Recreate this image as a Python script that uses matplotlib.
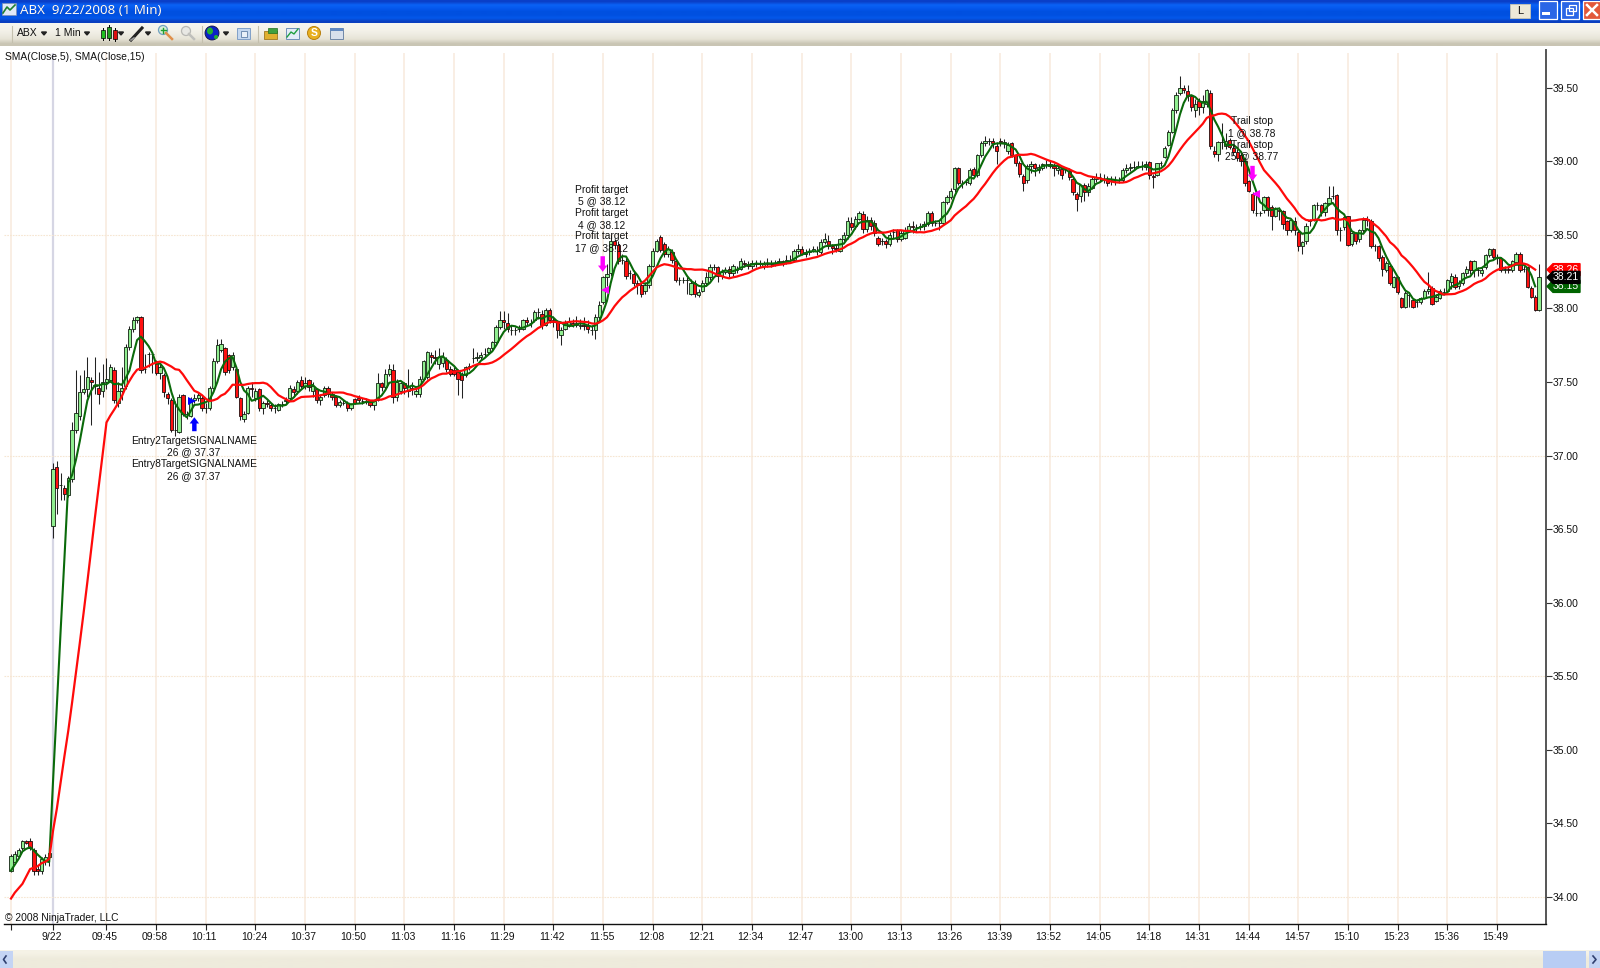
import matplotlib
matplotlib.use('Agg')
import matplotlib.pyplot as plt
import matplotlib.patches as mpatches
from matplotlib.transforms import ScaledTranslation
import numpy as np

plt.rcParams['font.family'] = ['Liberation Sans', 'DejaVu Sans']

# one row per 10 bars
opens = [
    34.18,34.24,34.28,34.33,34.38,34.38,34.32,34.19,34.18,34.25,
    34.27,36.52,36.92,36.80,36.78,36.73,36.84,37.17,37.27,37.43,
    37.45,37.51,37.47,37.46,37.44,37.50,37.51,37.58,37.36,37.44,
    37.47,37.74,37.86,37.92,37.94,37.59,37.69,37.69,37.64,37.56,
    37.55,37.42,37.38,37.17,37.16,37.41,37.28,37.27,37.38,37.39,
    37.39,37.32,37.32,37.46,37.64,37.72,37.73,37.68,37.60,37.59,
    37.39,37.25,37.29,37.46,37.39,37.45,37.32,37.36,37.34,37.32,
    37.31,37.35,37.37,37.39,37.45,37.44,37.51,37.47,37.515,37.44,
    37.455,37.375,37.41,37.46,37.42,37.40,37.34,37.36,37.355,37.32,
    37.385,37.39,37.37,37.37,37.365,37.34,37.375,37.49,37.465,37.555,
    37.58,37.40,37.44,37.49,37.44,37.46,37.42,37.42,37.52,37.53,
    37.68,37.67,37.62,37.63,37.65,37.59,37.58,37.57,37.555,37.545,
    37.60,37.66,37.66,37.67,37.69,37.70,37.73,37.77,37.87,37.92,
    37.90,37.85,37.85,37.86,37.86,37.92,37.90,37.92,37.975,37.96,
    37.885,37.99,37.92,37.91,37.82,37.86,37.88,37.90,37.89,37.88,
    37.89,37.88,37.85,37.85,37.94,38.04,38.21,38.24,38.46,38.43,
    38.33,38.32,38.24,38.235,38.17,38.16,38.12,38.16,38.29,38.39,
    38.485,38.435,38.37,38.385,38.32,38.19,38.195,38.19,38.10,38.17,
    38.09,38.12,38.17,38.21,38.28,38.28,38.22,38.25,38.27,38.24,
    38.26,38.27,38.31,38.30,38.29,38.31,38.30,38.29,38.30,38.31,
    38.30,38.31,38.32,38.31,38.33,38.33,38.39,38.40,38.37,38.38,
    38.39,38.39,38.38,38.45,38.46,38.42,38.41,38.39,38.47,38.495,
    38.58,38.56,38.61,38.64,38.54,38.60,38.58,38.475,38.46,38.46,
    38.44,38.52,38.53,38.47,38.48,38.53,38.56,38.55,38.55,38.56,
    38.575,38.65,38.58,38.58,38.58,38.72,38.755,38.81,38.955,38.85,
    38.86,38.85,38.945,38.905,39.04,39.125,39.14,39.14,39.10,39.14,
    39.125,39.07,39.125,39.04,38.99,38.90,38.87,38.965,38.98,38.94,
    38.95,38.98,38.97,38.97,38.94,38.945,38.94,38.93,38.88,38.78,
    38.76,38.835,38.79,38.82,38.88,38.89,38.88,38.88,38.87,38.87,
    38.87,38.87,38.94,38.95,38.96,38.96,38.97,38.96,38.995,38.90,
    38.905,38.985,39.03,39.11,39.20,39.345,39.46,39.50,39.475,39.44,
    39.35,39.41,39.37,39.39,39.46,39.07,39.05,39.13,39.10,39.145,
    39.09,39.06,39.04,39.00,38.865,38.78,38.645,38.645,38.665,38.755,
    38.69,38.63,38.67,38.66,38.595,38.53,38.59,38.52,38.42,38.46,
    38.59,38.60,38.70,38.70,38.655,38.715,38.765,38.77,38.53,38.55,
    38.625,38.435,38.51,38.47,38.53,38.61,38.59,38.42,38.42,38.35,
    38.26,38.29,38.145,38.215,38.07,38.01,38.09,38.055,38.04,38.04,
    38.07,38.12,38.14,38.05,38.07,38.11,38.12,38.18,38.215,38.15,
    38.17,38.24,38.32,38.26,38.26,38.24,38.28,38.36,38.40,38.34,
    38.34,38.26,38.27,38.26,38.315,38.37,38.27,38.28,38.14,38.08,37.99]
closes = [
    34.28,34.29,34.32,34.38,34.37,34.33,34.18,34.18,34.26,34.27,
    34.30,36.91,36.78,36.80,36.74,36.85,37.17,37.29,37.43,37.45,
    37.53,37.50,37.48,37.42,37.50,37.52,37.60,37.38,37.44,37.46,
    37.74,37.86,37.92,37.94,37.58,37.59,37.69,37.69,37.56,37.60,
    37.43,37.39,37.17,37.17,37.40,37.28,37.28,37.37,37.39,37.41,
    37.32,37.32,37.46,37.64,37.75,37.76,37.57,37.58,37.68,37.40,
    37.27,37.28,37.46,37.45,37.44,37.32,37.36,37.35,37.32,37.32,
    37.35,37.35,37.38,37.46,37.43,37.50,37.47,37.49,37.465,37.47,
    37.375,37.40,37.46,37.42,37.40,37.34,37.365,37.36,37.32,37.35,
    37.36,37.375,37.37,37.37,37.34,37.37,37.49,37.465,37.555,37.59,
    37.40,37.50,37.49,37.46,37.47,37.46,37.44,37.52,37.64,37.70,
    37.67,37.66,37.67,37.67,37.59,37.555,37.555,37.52,37.515,37.60,
    37.61,37.66,37.67,37.68,37.69,37.73,37.77,37.87,37.92,37.91,
    37.86,37.85,37.85,37.86,37.92,37.91,37.90,37.975,37.975,37.885,
    37.99,37.92,37.91,37.85,37.85,37.90,37.91,37.89,37.90,37.89,
    37.88,37.86,37.85,37.94,38.02,38.21,38.23,38.46,38.43,38.32,
    38.33,38.22,38.24,38.17,38.16,38.10,38.16,38.29,38.39,38.46,
    38.395,38.37,38.40,38.33,38.19,38.19,38.195,38.19,38.17,38.10,
    38.11,38.17,38.21,38.28,38.28,38.22,38.25,38.26,38.24,38.29,
    38.27,38.32,38.30,38.29,38.31,38.30,38.31,38.30,38.31,38.30,
    38.31,38.32,38.31,38.33,38.33,38.39,38.40,38.37,38.38,38.39,
    38.40,38.39,38.45,38.47,38.42,38.41,38.40,38.47,38.495,38.595,
    38.555,38.61,38.645,38.54,38.60,38.56,38.51,38.44,38.46,38.44,
    38.50,38.52,38.47,38.51,38.53,38.56,38.55,38.55,38.56,38.575,
    38.65,38.58,38.58,38.58,38.72,38.755,38.80,38.95,38.85,38.85,
    38.86,38.94,38.905,39.04,39.125,39.14,39.14,39.125,39.07,39.13,
    39.13,39.11,39.04,38.985,38.91,38.85,38.965,38.98,38.95,38.96,
    38.98,38.98,38.98,38.95,38.95,38.905,38.94,38.89,38.79,38.74,
    38.835,38.79,38.83,38.88,38.89,38.89,38.88,38.85,38.87,38.87,
    38.87,38.94,38.95,38.96,38.96,38.97,38.97,38.98,38.905,38.89,
    38.985,38.99,39.09,39.20,39.345,39.45,39.50,39.48,39.44,39.37,
    39.39,39.37,39.41,39.48,39.10,39.05,39.13,39.13,39.14,39.095,
    39.06,39.02,39.00,38.85,38.80,38.665,38.645,38.645,38.755,38.665,
    38.63,38.68,38.66,38.575,38.53,38.60,38.53,38.42,38.45,38.56,
    38.60,38.70,38.70,38.655,38.715,38.75,38.76,38.53,38.53,38.62,
    38.43,38.51,38.46,38.53,38.60,38.60,38.42,38.42,38.34,38.27,
    38.31,38.17,38.21,38.11,38.01,38.105,38.09,38.01,38.04,38.07,
    38.12,38.13,38.03,38.08,38.12,38.11,38.195,38.22,38.145,38.17,
    38.24,38.27,38.26,38.32,38.26,38.26,38.365,38.40,38.35,38.34,
    38.26,38.27,38.26,38.32,38.37,38.26,38.27,38.145,38.08,37.99,38.21]
highs = [
    34.29,34.31,34.33,34.39,34.39,34.40,34.33,34.22,34.27,34.29,
    34.33,36.95,36.96,36.88,36.80,36.86,37.23,37.58,37.55,37.58,
    37.67,37.53,37.67,37.57,37.62,37.66,37.62,37.60,37.50,37.60,
    37.76,37.88,37.94,37.95,37.95,37.69,37.70,37.70,37.65,37.62,
    37.56,37.43,37.39,37.37,37.42,37.42,37.30,37.40,37.42,37.43,
    37.41,37.36,37.47,37.66,37.79,37.79,37.74,37.69,37.70,37.60,
    37.40,37.30,37.47,37.50,37.46,37.46,37.37,37.38,37.36,37.35,
    37.36,37.37,37.40,37.48,37.47,37.51,37.54,37.53,37.52,37.50,
    37.46,37.42,37.47,37.47,37.43,37.41,37.38,37.38,37.37,37.36,
    37.39,37.41,37.39,37.39,37.38,37.38,37.56,37.50,37.59,37.62,
    37.62,37.52,37.50,37.50,37.59,37.50,37.47,37.54,37.65,37.71,
    37.70,37.72,37.73,37.70,37.67,37.61,37.60,37.59,37.57,37.61,
    37.63,37.73,37.70,37.70,37.73,37.74,37.78,37.89,37.98,37.98,
    37.97,37.89,37.87,37.89,37.93,37.94,37.93,37.99,38.00,37.99,
    38.00,38.00,37.95,37.92,37.87,37.92,37.94,37.93,37.95,37.93,
    37.94,37.92,37.89,37.96,38.05,38.22,38.30,38.50,38.47,38.46,
    38.37,38.34,38.26,38.26,38.19,38.18,38.18,38.30,38.41,38.47,
    38.50,38.45,38.42,38.40,38.33,38.21,38.21,38.21,38.20,38.19,
    38.13,38.19,38.25,38.30,38.30,38.29,38.27,38.28,38.29,38.30,
    38.29,38.34,38.33,38.32,38.33,38.33,38.33,38.32,38.34,38.33,
    38.33,38.34,38.33,38.36,38.36,38.40,38.44,38.42,38.40,38.41,
    38.42,38.42,38.47,38.51,38.50,38.44,38.43,38.48,38.52,38.62,
    38.62,38.63,38.66,38.66,38.63,38.62,38.60,38.49,38.48,38.47,
    38.52,38.54,38.54,38.53,38.55,38.58,38.59,38.57,38.58,38.59,
    38.66,38.66,38.60,38.60,38.73,38.77,38.82,38.96,38.96,38.87,
    38.88,38.95,38.96,39.05,39.14,39.17,39.16,39.16,39.13,39.16,
    39.15,39.13,39.13,39.05,39.00,38.91,38.98,39.00,38.99,38.98,
    38.99,39.01,39.00,38.99,38.98,38.96,38.96,38.95,38.89,38.79,
    38.84,38.85,38.85,38.90,38.92,38.92,38.91,38.90,38.90,38.90,
    38.89,38.95,38.98,38.99,39.00,39.00,39.00,39.00,39.00,38.91,
    38.99,39.00,39.10,39.21,39.36,39.47,39.58,39.52,39.52,39.45,
    39.42,39.43,39.45,39.49,39.48,39.10,39.14,39.26,39.19,39.16,
    39.11,39.08,39.05,39.02,38.87,38.79,38.78,38.66,38.76,38.76,
    38.70,38.69,38.69,38.67,38.60,38.61,38.62,38.53,38.46,38.58,
    38.61,38.71,38.72,38.71,38.72,38.83,38.83,38.78,38.55,38.63,
    38.63,38.52,38.52,38.54,38.62,38.63,38.61,38.44,38.43,38.36,
    38.32,38.30,38.22,38.22,38.08,38.12,38.11,38.07,38.06,38.08,
    38.13,38.25,38.15,38.10,38.13,38.14,38.20,38.24,38.23,38.19,
    38.25,38.29,38.33,38.33,38.28,38.28,38.37,38.41,38.41,38.37,
    38.35,38.29,38.29,38.33,38.38,38.38,38.29,38.29,38.15,38.09,38.30]
lows = [
    34.17,34.23,34.27,34.32,34.36,34.32,34.15,34.15,34.16,34.22,
    34.21,36.44,36.60,36.70,36.70,36.72,36.82,37.15,37.24,37.42,
    37.40,37.21,37.42,37.35,37.40,37.45,37.50,37.36,37.33,37.38,
    37.45,37.72,37.84,37.90,37.56,37.56,37.60,37.56,37.55,37.52,
    37.40,37.35,37.16,37.13,37.15,37.27,37.25,37.26,37.36,37.37,
    37.30,37.29,37.31,37.45,37.63,37.70,37.55,37.56,37.58,37.39,
    37.24,37.23,37.28,37.40,37.37,37.30,37.28,37.33,37.30,37.29,
    37.30,37.33,37.35,37.37,37.40,37.42,37.46,37.45,37.44,37.40,
    37.36,37.34,37.40,37.40,37.38,37.33,37.33,37.34,37.30,37.31,
    37.35,37.36,37.35,37.35,37.33,37.31,37.37,37.44,37.45,37.54,
    37.36,37.37,37.42,37.42,37.40,37.41,37.40,37.40,37.51,37.52,
    37.63,37.62,37.59,37.60,37.57,37.54,37.54,37.41,37.39,37.53,
    37.58,37.63,37.64,37.65,37.67,37.69,37.72,37.76,37.86,37.86,
    37.84,37.82,37.82,37.84,37.85,37.89,37.87,37.91,37.93,37.86,
    37.88,37.90,37.87,37.80,37.75,37.85,37.87,37.87,37.87,37.86,
    37.85,37.83,37.82,37.79,37.93,38.03,38.15,38.22,38.40,38.30,
    38.30,38.20,38.20,38.15,38.10,38.08,38.10,38.14,38.28,38.38,
    38.38,38.35,38.35,38.31,38.18,38.16,38.17,38.10,38.09,38.08,
    38.08,38.11,38.15,38.19,38.26,38.18,38.20,38.23,38.21,38.22,
    38.24,38.26,38.28,38.27,38.27,38.28,38.28,38.27,38.28,38.28,
    38.29,38.30,38.29,38.30,38.31,38.32,38.37,38.36,38.35,38.36,
    38.38,38.36,38.37,38.44,38.40,38.37,38.38,38.38,38.46,38.47,
    38.53,38.54,38.60,38.51,38.52,38.53,38.49,38.42,38.43,38.41,
    38.42,38.48,38.45,38.46,38.47,38.52,38.51,38.52,38.53,38.53,
    38.56,38.56,38.56,38.53,38.57,38.71,38.74,38.79,38.84,38.82,
    38.84,38.84,38.89,38.89,39.03,39.10,39.11,39.09,38.98,39.10,
    39.09,39.05,39.03,38.97,38.89,38.80,38.85,38.92,38.90,38.92,
    38.94,38.95,38.95,38.90,38.91,38.88,38.92,38.87,38.77,38.66,
    38.72,38.73,38.76,38.81,38.86,38.86,38.85,38.83,38.84,38.84,
    38.85,38.86,38.92,38.93,38.94,38.95,38.94,38.94,38.88,38.82,
    38.90,38.97,39.02,39.10,39.19,39.33,39.45,39.46,39.41,39.34,
    39.30,39.31,39.33,39.37,39.08,39.03,39.00,39.08,39.08,39.08,
    39.04,39.00,38.97,38.83,38.79,38.65,38.63,38.63,38.65,38.63,
    38.53,38.62,38.60,38.54,38.50,38.52,38.50,38.39,38.37,38.44,
    38.56,38.59,38.67,38.63,38.63,38.70,38.74,38.50,38.46,38.53,
    38.42,38.42,38.44,38.45,38.52,38.56,38.41,38.39,38.32,38.22,
    38.25,38.16,38.14,38.10,38.00,38.00,38.01,38.00,38.01,38.03,
    38.06,38.10,38.02,38.04,38.06,38.09,38.11,38.13,38.13,38.13,
    38.16,38.22,38.23,38.21,38.22,38.22,38.27,38.35,38.33,38.30,
    38.25,38.24,38.24,38.25,38.30,38.25,38.25,38.14,38.07,37.98,37.98]

# values the moving averages show before their windows are full
sma5_head = [34.18, 34.22, 34.26, 34.31]
sma15_head = [33.99, 34.03, 34.06, 34.09, 34.14, 34.19, 34.20,
              34.21, 34.23, 34.24, 34.26, 34.45, 34.60, 34.78]

tick_bars = [0, 11] + list(range(25, 390, 13))
tick_labels = ['', '9/22', '09:45', '09:58', '10:11', '10:24', '10:37', '10:50', '11:03',
               '11:16', '11:29', '11:42', '11:55', '12:08', '12:21', '12:34', '12:47',
               '13:00', '13:13', '13:26', '13:39', '13:52', '14:05', '14:18', '14:31',
               '14:44', '14:57', '15:10', '15:23', '15:36', '15:49']
price_ticks = [34.0, 34.5, 35.0, 35.5, 36.0, 36.5, 37.0, 37.5, 38.0, 38.5, 39.0, 39.5]
grid_prices = [34.0, 35.5, 37.0, 38.5]

entry_lines = ['Entry2TargetSIGNALNAME', '26 @ 37.37', 'Entry8TargetSIGNALNAME', '26 @ 37.37']
profit_lines = ['Profit target', '5 @ 38.12', 'Profit target', '4 @ 38.12', 'Profit target', '17 @ 38.12']
trail_lines = ['Trail stop', '1 @ 38.78', 'Trail stop', '25 @ 38.77']

GRID = '#f8e9dc'
LABEL_SIZE = 7.5
NOTE_SIZE = 7.35


def sma(values, n, head):
    rolled = np.convolve(values, np.ones(n) / n, 'valid')
    return np.concatenate([head, rolled])


def note(bar, price, lines):
    # lines sit a fixed 11.7 px apart, centred on the given price
    for k, line in enumerate(lines):
        dy = ((len(lines) - 1) / 2 - k) * 11.7 * 0.72
        ax.annotate(line, xy=(bar, price), xytext=(0, dy), textcoords='offset points',
                    ha='center', va='center', fontsize=NOTE_SIZE, color='#111111', zorder=7)


fig = plt.figure(figsize=(16, 9.68), dpi=100, facecolor='white')
ax = fig.add_axes([4 / 1600, 1 - 924 / 968, 1542 / 1600, 874 / 968])
ax.set_xlim(-1.83, 401.83)
ax.set_ylim(33.817, 39.755)

bars = np.arange(len(closes))
o = np.array(opens)
c = np.array(closes)
h = np.array(highs)
l = np.array(lows)
up = c >= o

ax.vlines(tick_bars[2:], 33.817, 39.735, color=GRID, lw=1.1, zorder=0)
ax.vlines(tick_bars[0], 33.817, 39.735, color=GRID, lw=1.1, zorder=0)
ax.vlines(tick_bars[1], 33.817, 39.735, color='#d6d6e4', lw=1.6, zorder=0)
for p in grid_prices:
    ax.axhline(p, color='#f6e6d2', lw=0.8, ls=(0, (1.5, 1)), zorder=0)

ax.vlines(bars, l, h, color='#222222', lw=0.75, zorder=2)
ax.bar(bars[up], c[up] - o[up], bottom=o[up], width=0.86, color='#90ee90',
       edgecolor='#102010', linewidth=0.6, zorder=3)
ax.bar(bars[~up], o[~up] - c[~up], bottom=c[~up], width=0.86, color='#ff1010',
       edgecolor='#201010', linewidth=0.6, zorder=3)

fast = sma(c[:400], 5, sma5_head)
slow = sma(c[:400], 15, sma15_head)
ax.plot(bars[:400], fast, color='#0a6a0a', lw=1.5, zorder=4, solid_joinstyle='round')
ax.plot(bars[:400], slow, color='#ff0a0a', lw=1.6, zorder=5, solid_joinstyle='round')

# trade arrows
arrow_up = dict(facecolor='#0000ff', edgecolor='#0000ff', width=3.2, headwidth=6.8, headlength=4.5, shrink=0, lw=0)
arrow_dn = dict(facecolor='#ff00ff', edgecolor='#ff00ff', width=3.2, headwidth=6.8, headlength=4.5, shrink=0, lw=0)
ax.annotate('', xy=(48, 37.26), xytext=(48, 37.165), arrowprops=arrow_up, zorder=6)
ax.annotate('', xy=(154.9, 38.248), xytext=(154.9, 38.354), arrowprops=arrow_dn, zorder=6)
ax.annotate('', xy=(325, 38.866), xytext=(325, 38.968), arrowprops=arrow_dn, zorder=6)
ax.plot([47.4], [37.37], marker='>', color='#0000ff', ms=5.5, mew=0, zorder=6)
ax.plot([155.6, 325.9], [38.127, 38.775], ls='', marker='<', color='#ff00ff', ms=5.5, mew=0, zorder=6)

# order labels
note(47.9, 36.98, entry_lines)
note(154.7, 38.608, profit_lines)
note(324.9, 39.15, trail_lines)

ax.yaxis.tick_right()
ax.set_yticks(price_ticks, [f'{p:.2f}' for p in price_ticks], fontsize=LABEL_SIZE, color='#111111')
ax.set_xticks(tick_bars, tick_labels, fontsize=LABEL_SIZE, color='#111111')
ax.tick_params(axis='y', length=4, width=0.8, pad=1, color='#333333')
ax.tick_params(axis='x', length=4.5, width=0.8, pad=1.5, color='#222222')
shift = ScaledTranslation(-1.5 / 100, 0, fig.dpi_scale_trans)
for lab in ax.get_xticklabels():
    lab.set_transform(lab.get_transform() + shift)
for s in ['top', 'left']:
    ax.spines[s].set_visible(False)
ax.spines['bottom'].set_linewidth(1.0)
ax.spines['bottom'].set_color('#111111')
ax.spines['right'].set_linewidth(1.4)
ax.spines['right'].set_color('#555555')

# window frame drawn in pixel coordinates on top of the chart
frame = fig.add_axes([0, 0, 1, 1], zorder=10)
frame.patch.set_alpha(0)
frame.axis('off')


def rect(x, y, w, h, color, **kw):
    frame.add_patch(mpatches.Rectangle((x, y), w, h, facecolor=color, edgecolor=kw.pop('ec', 'none'), **kw))


def vgrad(x0, x1, y0, y1, colors):
    img = np.array([matplotlib.colors.to_rgb(col) for col in colors])[:, None, :]
    frame.imshow(img, extent=(x0, x1, y1, y0), aspect='auto', interpolation='bilinear', zorder=1)


vgrad(0, 1600, 0, 23, ['#0a3fc8', '#0a62f5', '#0558ee', '#0050e0', '#0050e0', '#0458ea', '#0a3fc0'])
vgrad(0, 1600, 23, 46, ['#f6f5ef', '#f4f2ea', '#eeece2', '#e6e3d6', '#c9c5b4'])
vgrad(0, 1600, 950, 968, ['#f5f2e6', '#eeebdc', '#eeebdc'])

frame.text(20.5, 10.5, 'ABX  9/22/2008 (1 Min)', color='#0a2a80', fontsize=9.6, fontweight='bold',
           family='Noto Sans', va='center', zorder=3)
frame.text(20, 10, 'ABX  9/22/2008 (1 Min)', color='white', fontsize=9.6, fontweight='bold',
           family='Noto Sans', va='center', zorder=3)

# title icon
rect(2, 3, 14, 12, '#dfe8f8', ec='#8090b0', lw=0.5, zorder=3)
frame.plot([3, 7, 10, 15], [13, 7, 10, 5], color='#208030', lw=1.2, zorder=4)

# window buttons
rect(1510, 4, 20, 14, '#ece9d8', ec='#c8c4b0', lw=0.6, zorder=3)
frame.text(1520, 11, 'L', fontsize=8, ha='center', va='center', zorder=4, color='#111111')
for x0, col in [(1539, '#2a66e6'), (1561, '#2a66e6'), (1583, '#e2583a')]:
    rect(x0, 1, 18, 18, col, ec='white', lw=0.9, zorder=3)
rect(1542, 12, 8, 3, 'white', zorder=4)
rect(1566, 8, 7, 7, 'none', ec='white', lw=0.9, zorder=4)
rect(1569, 5, 7, 6, 'none', ec='white', lw=0.9, zorder=4)
frame.plot([1587, 1597], [5, 15], color='white', lw=1.8, zorder=4)
frame.plot([1587, 1597], [15, 5], color='white', lw=1.8, zorder=4)

# toolbar
for x0 in [12, 202, 258]:
    frame.plot([x0, x0], [26, 42], color='#c4c0ae', lw=0.8, zorder=3)
frame.text(17, 33.5, 'ABX', fontsize=LABEL_SIZE, va='center', zorder=3, color='#111111')
frame.text(55, 33.5, '1 Min', fontsize=LABEL_SIZE, va='center', zorder=3, color='#111111')
for xa in [44, 87, 121, 148, 226]:
    frame.fill([xa - 2.5, xa + 2.5, xa], [32, 32, 35], color='#222222', zorder=3)
for xc, col, y0, hh in [(103, '#20c020', 30, 8), (109, '#20a020', 27, 11), (115, '#e01010', 30, 9)]:
    frame.plot([xc, xc], [y0 - 2, y0 + hh + 2], color='black', lw=0.7, zorder=3)
    rect(xc - 2, y0, 4, hh, col, ec='black', lw=0.5, zorder=4)
frame.plot([131, 142], [40, 28], color='#222222', lw=2.2, zorder=3)
frame.plot([131, 134], [40, 38], color='#999999', lw=1.2, zorder=4)
frame.add_patch(mpatches.Circle((163, 30), 4.5, fc='#d8f0d8', ec='#70a0c0', lw=0.9, zorder=3))
frame.plot([166, 172], [33, 39], color='#e0904a', lw=1.8, zorder=3)
frame.plot([160.5, 165.5], [30, 30], color='#20a030', lw=1, zorder=4)
frame.plot([163, 163], [27.5, 32.5], color='#20a030', lw=1, zorder=4)
frame.add_patch(mpatches.Circle((186, 31), 4.5, fc='#e8e8e4', ec='#b8b8b4', lw=0.9, zorder=3))
frame.plot([189, 194], [34, 39], color='#c0c0bc', lw=1.8, zorder=3)
frame.add_patch(mpatches.Circle((212, 33), 7, fc='#0a20c8', ec='#101040', lw=0.6, zorder=3))
frame.add_patch(mpatches.Ellipse((210, 31), 6, 7, fc='#20b030', ec='none', zorder=4))
frame.add_patch(mpatches.Ellipse((216, 37), 4, 4, fc='#20b030', ec='none', zorder=4))
rect(237, 28, 13, 11, '#c4d8f0', ec='#80a0c8', lw=0.7, zorder=3)
rect(241, 31, 6, 6, '#e8f0f8', ec='#6080a8', lw=0.6, zorder=4)
rect(264, 31, 13, 8, '#e0b030', ec='#a07820', lw=0.6, zorder=3)
rect(268, 28, 9, 5, '#40a040', ec='#207020', lw=0.5, zorder=4)
rect(286, 28, 13, 11, '#e4ecf8', ec='#7090b8', lw=0.7, zorder=3)
frame.plot([287, 291, 294, 298], [37, 32, 34, 29], color='#20a040', lw=1, zorder=4)
frame.add_patch(mpatches.Circle((314, 33), 6.5, fc='#e8b020', ec='#b88010', lw=0.7, zorder=3))
frame.text(314, 33, 'S', color='white', fontsize=7.5, fontweight='bold', ha='center', va='center', zorder=4)
rect(330, 28, 13, 11, '#d8e0ec', ec='#7088a8', lw=0.7, zorder=3)
rect(330, 28, 13, 3, '#6088c0', zorder=4)

# scroll bar
rect(0, 951, 13, 17, '#c4d4f4', zorder=3)
frame.plot([6, 3.5, 6], [956, 959.5, 963], color='#304070', lw=1.2, zorder=4)
rect(1543, 951, 43, 17, '#b8cdf4', zorder=3)
rect(1589, 951, 11, 17, '#c4d4f4', zorder=3)
frame.plot([1593, 1596, 1593], [956, 959.5, 963], color='#304070', lw=1.2, zorder=4)

frame.text(5, 57, 'SMA(Close,5), SMA(Close,15)', fontsize=NOTE_SIZE, va='center', color='#111111', zorder=3)
frame.text(5, 918, '\u00a9 2008 NinjaTrader, LLC', fontsize=NOTE_SIZE, va='center', color='#111111', zorder=3)


# last value tags on the price axis, later tags cover earlier ones
def tag(price, col, z):
    y = 968 - ax.transData.transform((0, price))[1]
    frame.fill([1547, 1553, 1580, 1580, 1553], [y, y - 6, y - 6, y + 6, y + 6], color=col, zorder=z)
    frame.text(1566, y, f'{price:.2f}', color='white', fontsize=LABEL_SIZE, ha='center', va='center', zorder=z)


tag(slow[-1], '#ff0000', 3)
tag(fast[-1], '#006400', 4)
tag(closes[-1], 'black', 5)

frame.set_xlim(0, 1600)
frame.set_ylim(968, 0)

fig.savefig('out.png', dpi=100)
